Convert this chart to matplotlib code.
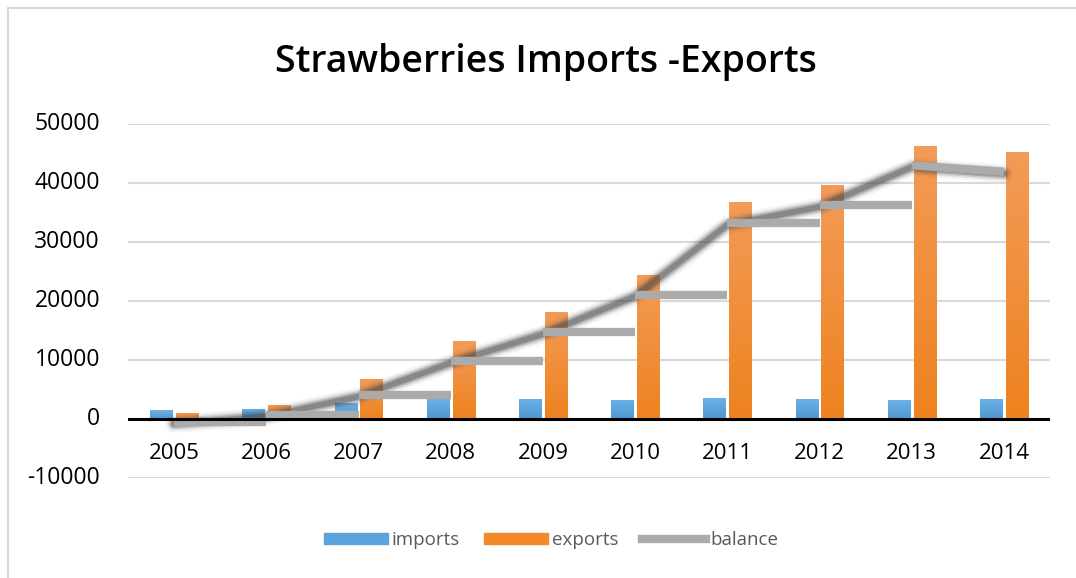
import numpy as np
import matplotlib
matplotlib.use("Agg")
import matplotlib.pyplot as plt
from matplotlib.lines import Line2D
from matplotlib.patches import Patch, Rectangle

years = ["2005", "2006", "2007", "2008", "2009", "2010", "2011", "2012", "2013", "2014"]
imports = [1500, 1700, 2700, 3400, 3400, 3300, 3600, 3400, 3200, 3400]
exports = [1000, 2400, 6800, 13200, 18100, 24400, 36800, 39650, 46200, 45300]
balance = [-500, 700, 4100, 9800, 14700, 21100, 33200, 36250, 43000, 41900]
yticks = [-10000, 0, 10000, 20000, 30000, 40000, 50000]

BLUE = "#5BA3DC"
ORANGE = "#F28A2A"
GRAY = "#ABABAB"


def gradient_bars(ax, bars, top, bottom):
    # vertical gradient clipped to each bar
    grad = np.linspace(0, 1, 256).reshape(-1, 1)
    cmap = matplotlib.colors.LinearSegmentedColormap.from_list("g", [top, bottom])
    for b in bars:
        x, y = b.get_x(), b.get_y()
        w, h = b.get_width(), b.get_height()
        b.set_facecolor("none")
        b.set_edgecolor("none")
        im = ax.imshow(grad, cmap=cmap, aspect="auto", origin="upper",
                       extent=[x, x + w, y, y + h], zorder=3)
        im.set_clip_path(b)


def plot_chart():
    plt.rcParams["font.family"] = ["Open Sans", "DejaVu Sans"]
    fig = plt.figure(figsize=(10.76, 5.78), dpi=100)
    ax = fig.add_axes([128 / 1076, 100 / 578, 922 / 1076, 354 / 578])

    # chart frame
    fig.patches.append(Rectangle((8 / 1076, -0.02), 1.1, 1 - 8 / 578 + 0.02,
                                 transform=fig.transFigure, fill=False,
                                 edgecolor="#D9D9D9", linewidth=1.5))

    x = np.arange(len(years))
    width = 0.24
    off = 0.14

    b1 = ax.bar(x - off, imports, width, color=BLUE, zorder=3)
    b2 = ax.bar(x + off, exports, width, color=ORANGE, zorder=3)
    gradient_bars(ax, b1, "#6DB2E6", "#4E97D2")
    gradient_bars(ax, b2, "#F39B58", "#EE821E")

    # soft shadowed balance line
    for lw, a in [(13, 0.06), (10, 0.10), (8, 0.16), (6, 0.25), (4, 0.35)]:
        ax.plot(x, np.array(balance) - 300, color="#4A4A4A", linewidth=lw,
                alpha=a, solid_capstyle="round", zorder=4)

    # stepped balance markers
    ax.hlines(balance[:-2], x[:-2], x[1:-1], colors=GRAY, linewidth=6, zorder=5)
    ax.plot(x[-2:], balance[-2:], color=GRAY, linewidth=6, zorder=5,
            solid_capstyle="butt")

    ax.set_xlim(-0.5, len(years) - 0.5)
    ax.set_ylim(-10000, 50000)
    ax.set_yticks(yticks)
    ax.set_yticklabels([])
    ax.yaxis.grid(True, color="#D9D9D9", linewidth=1.5, zorder=0)
    ax.set_axisbelow(True)
    ax.axhline(0, color="black", linewidth=2.2, zorder=6)
    for s in ax.spines.values():
        s.set_visible(False)
    ax.tick_params(axis="both", length=0)
    ax.set_xticks([])

    # value labels to the left of the plot area
    ytr = ax.get_yaxis_transform()
    for v in yticks:
        ax.text(-28 / 922, v, str(v), transform=ytr, ha="right", va="center",
                fontsize=16.5)

    for i, yr in enumerate(years):
        ax.text(x[i], -5800, yr, ha="center", va="center", fontsize=16,
                zorder=7)

    fig.text(0.507, 0.893, "Strawberries Imports -Exports", ha="center",
             va="center", fontsize=27, fontweight="semibold")

    handles = [Patch(color=BLUE), Patch(color=ORANGE),
               Line2D([0], [0], color=GRAY, linewidth=6)]
    leg = fig.legend(handles, ["imports", "exports", "balance"], loc="center",
                     bbox_to_anchor=(0.512, 0.066), ncol=3, frameon=False,
                     fontsize=13.5, handlelength=3.4, handleheight=0.5,
                     columnspacing=1.3, handletextpad=0.2)
    for t in leg.get_texts():
        t.set_color("#595959")

    fig.savefig("out.png", dpi=100, facecolor="white")


if __name__ == "__main__":
    plot_chart()
